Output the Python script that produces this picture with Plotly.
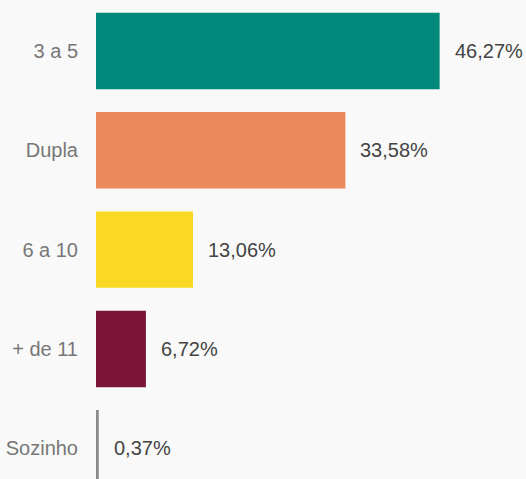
import plotly.graph_objects as go

# categorias e percentuais
categorias = ["3 a 5", "Dupla", "6 a 10", "+ de 11", "Sozinho"]
valores = [46.27, 33.58, 13.06, 6.72, 0.37]
rotulos = ["46,27%", "33,58%", "13,06%", "6,72%", "0,37%"]
cores = ["#00897b", "#ec8a5e", "#f9d923", "#7b1538", "#8a8a8a"]

fig = go.Figure()
fig.add_trace(
    go.Bar(
        x=valores,
        y=categorias,
        orientation="h",
        marker=dict(color=cores, line=dict(width=0)),
        width=0.77,
        hoverinfo="skip",
    )
)

# rotulos de valor a direita das barras
for cat, v, txt in zip(categorias, valores, rotulos):
    fig.add_annotation(
        x=v, y=cat, text=txt, showarrow=False,
        xanchor="left", xshift=13,
        font=dict(family="Liberation Sans, Arial", size=20, color="#444444"),
    )

fig.update_layout(
    width=526,
    height=479,
    margin=dict(l=96, r=0, t=0, b=0),
    paper_bgcolor="#f9f9f9",
    plot_bgcolor="#f9f9f9",
    showlegend=False,
    font=dict(family="Liberation Sans, Arial", size=20, color="#777777"),
)
fig.update_xaxes(range=[0, 57.9], visible=False)
fig.update_yaxes(
    type="category",
    range=[4.31, -0.514],
    showgrid=False,
    zeroline=False,
    showline=False,
    ticks="",
    ticklabelstandoff=17,
    tickfont=dict(size=20, color="#777777"),
)

# tira a margem do body para o grafico ocupar a janela toda
fig.write_html(
    "out.html",
    config={"displayModeBar": False},
    post_script="document.body.style.margin='0';document.body.style.overflow='hidden';",
)
